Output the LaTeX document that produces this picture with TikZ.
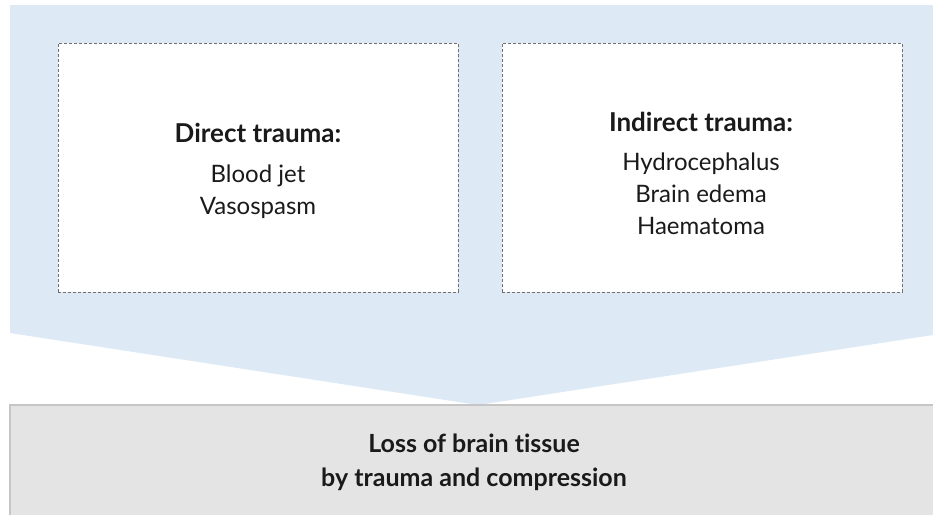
\documentclass[tikz,border=0pt]{standalone}
\usepackage{fontspec}
\setmainfont{Lato}[Ligatures={NoCommon}]
\definecolor{funnelblue}{HTML}{DDE9F5}
\definecolor{basegray}{HTML}{E4E4E4}
\definecolor{edgegray}{HTML}{C6C6C6}
\definecolor{dashgray}{HTML}{707070}
\definecolor{txt}{HTML}{1A1A1A}
\begin{document}
\begin{tikzpicture}[x=1pt,y=-1pt,
  causebox/.style={draw=dashgray,densely dashed,line width=0.6pt,fill=white,
    minimum width=400pt,minimum height=249pt,anchor=north west,inner sep=0pt},
  heading/.style={font=\fontsize{26}{32}\selectfont\bfseries,text=txt},
  itemtext/.style={font=\fontsize{24}{32}\selectfont,text=txt,align=center}]
\useasboundingbox (0,0) rectangle (933,515);
% funnel shape
\fill[funnelblue] (10,5) -- (933,5) -- (933,335) -- (478,405) -- (10,333) -- cycle;
% base box
\fill[basegray] (10,405) rectangle (933,515);
\draw[edgegray,line width=1.2pt] (10,515) -- (10,405) -- (933,405);
% cause boxes
\node[causebox] (direct) at (58,43) {};
\node[causebox] (indirect) at (502,43) {};
% texts
\node[heading] (dhead) at (258,133) {Direct trauma:};
\node[itemtext,anchor=north] (ditems) at (258,161) {Blood jet\\Vasospasm};
\node[heading] (ihead) at (701,122) {Indirect trauma:};
\node[itemtext,anchor=north] (iitems) at (701,149) {Hydrocephalus\\Brain edema\\Haematoma};
\node[font=\fontsize{25}{34}\selectfont\bfseries,text=txt,align=center] (loss) at (474,462)
  {Loss of brain tissue\\by trauma and compression};
\end{tikzpicture}
\end{document}
